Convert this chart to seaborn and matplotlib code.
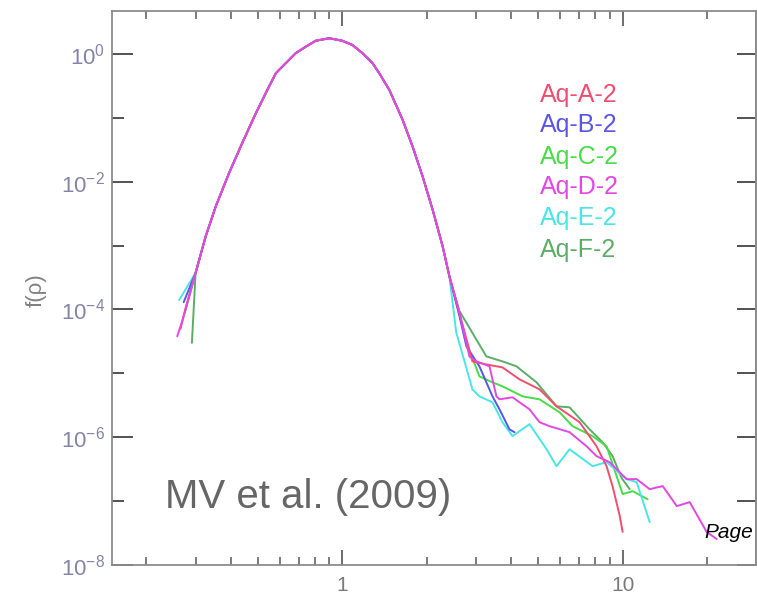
import numpy as np
import pandas as pd
import matplotlib
matplotlib.use("Agg")
import matplotlib.pyplot as plt
import seaborn as sns
from matplotlib.ticker import FixedLocator, FuncFormatter, NullFormatter

# ---------------- data ----------------
series_names = ["Aq-A-2", "Aq-B-2", "Aq-C-2", "Aq-D-2", "Aq-E-2", "Aq-F-2"]
series_colors = ["#f24d6e", "#5a55e6", "#48dc48", "#e448e4", "#48e6e6", "#5aae66"]

# shared central part of the density curves (all six overlap here)
rho_core = [0.300, 0.326, 0.354, 0.395, 0.440, 0.492, 0.548, 0.580, 0.629, 0.683,
            0.742, 0.805, 0.899, 1.00, 1.088, 1.18, 1.283, 1.355, 1.472, 1.642,
            1.782, 1.935, 2.101, 2.281, 2.411]
f_core = [3.74e-4, 1.40e-3, 4.11e-3, 1.37e-2, 4.03e-2, 0.118, 0.308, 0.50, 0.716, 1.03,
          1.30, 1.61, 1.76, 1.61, 1.38, 1.03, 0.716, 0.50, 0.274, 9.32e-2,
          3.56e-2, 1.21e-2, 3.65e-3, 9.75e-4, 3.31e-4]

# low-density ends
rho_left = {
    "Aq-A-2": [0.265, 0.277], "Aq-B-2": [0.272], "Aq-C-2": [0.275],
    "Aq-D-2": [0.258, 0.270], "Aq-E-2": [0.262], "Aq-F-2": [0.291],
}
f_left = {
    "Aq-A-2": [5.0e-5, 1.1e-4], "Aq-B-2": [1.3e-4], "Aq-C-2": [9.0e-5],
    "Aq-D-2": [3.8e-5, 7.0e-5], "Aq-E-2": [1.4e-4], "Aq-F-2": [3.0e-5],
}

# high-density tails
rho_right = {
    "Aq-A-2": [2.617, 2.913, 3.267, 3.728, 4.287, 5.054, 5.811, 7.023, 8.075, 8.768,
               9.210, 9.756, 10.0],
    "Aq-B-2": [2.617, 2.773, 3.085, 3.434, 3.637, 3.948, 4.114],
    "Aq-C-2": [2.617, 2.773, 3.085, 3.434, 3.728, 4.394, 5.054, 5.957, 6.630, 7.814,
               8.768, 9.519, 10.0, 10.86, 12.28],
    "Aq-D-2": [2.617, 2.842, 3.010, 3.350, 3.548, 3.637, 4.047, 4.655, 5.054, 5.487,
               6.467, 7.437, 8.075, 8.986, 10.33, 11.22, 12.49, 13.90, 15.60, 17.35,
               19.95, 21.66],
    "Aq-E-2": [2.55, 2.913, 3.085, 3.434, 3.728, 4.047, 4.655, 5.354, 5.811, 6.467,
               7.814, 8.768, 10.33, 11.22, 12.49],
    "Aq-F-2": [2.617, 3.267, 3.728, 4.182, 4.931, 5.811, 6.467, 7.624, 8.483, 9.210,
               9.918, 10.6],
}
f_right = {
    "Aq-A-2": [8.9e-5, 1.54e-5, 1.38e-5, 1.24e-5, 8.06e-6, 5.62e-6, 3.05e-6, 1.72e-6,
               7.2e-7, 3.5e-7, 1.7e-7, 6.0e-8, 3.3e-8],
    "Aq-B-2": [8.0e-5, 2.64e-5, 1.29e-5, 4.37e-6, 2.74e-6, 1.33e-6, 1.20e-6],
    "Aq-C-2": [8.5e-5, 3.05e-5, 8.98e-6, 7.23e-6, 6.26e-6, 4.37e-6, 3.92e-6, 2.46e-6,
               1.49e-6, 1.04e-6, 7.23e-7, 2.46e-7, 1.29e-7, 1.43e-7, 1.07e-7],
    "Aq-D-2": [9.0e-5, 1.84e-5, 1.54e-5, 1.29e-5, 4.37e-6, 3.92e-6, 4.22e-6, 2.74e-6,
               1.72e-6, 1.49e-6, 1.20e-6, 7.23e-7, 5.05e-7, 4.07e-7, 2.21e-7, 2.21e-7,
               1.54e-7, 1.72e-7, 8.35e-8, 9.65e-8, 3.28e-8, 2.55e-8],
    "Aq-E-2": [4.4e-5, 5.62e-6, 4.37e-6, 3.52e-6, 1.72e-6, 1.04e-6, 1.60e-6, 6.49e-7,
               3.52e-7, 6.49e-7, 3.52e-7, 4.07e-7, 2.21e-7, 1.98e-7, 4.70e-8],
    "Aq-F-2": [9.5e-5, 1.84e-5, 1.54e-5, 1.29e-5, 7.23e-6, 3.05e-6, 2.94e-6, 1.33e-6,
               8.35e-7, 5.05e-7, 2.3e-7, 1.54e-7],
}

y_tick_vals = [1e-8, 1e-6, 1e-4, 1e-2, 1e0]
y_tick_labels = [r"$10^{-8}$", r"$10^{-6}$", r"$10^{-4}$", r"$10^{-2}$", r"$10^{0}$"]
y_minor_vals = [1e-7, 1e-5, 1e-3, 1e-1]
x_tick_vals = [1, 10]
x_tick_labels = ["1", "10"]
x_minor_vals = [0.2, 0.3, 0.4, 0.5, 0.6, 0.7, 0.8, 0.9, 2, 3, 4, 5, 6, 7, 8, 9, 20, 30]

# ---------------- build table ----------------
rows = []
for name in series_names:
    rr = rho_left[name] + rho_core + rho_right[name]
    ff = f_left[name] + f_core + f_right[name]
    for r, f in zip(rr, ff):
        rows.append({"series": name, "rho": r, "f": f})
df = pd.DataFrame(rows)

# ---------------- style ----------------
sns.set_theme(style="white")
plt.rcParams["font.family"] = ["Liberation Sans", "DejaVu Sans"]
plt.rcParams["mathtext.default"] = "regular"
plt.rcParams["axes.unicode_minus"] = False

W, H = 757, 596
fig = plt.figure(figsize=(W / 100, H / 100), dpi=100)
ax = fig.add_axes([112 / W, 1 - 565 / H, 644 / W, 554 / H])

palette = dict(zip(series_names, series_colors))
draw_order = ["Aq-F-2", "Aq-C-2", "Aq-E-2", "Aq-B-2", "Aq-A-2", "Aq-D-2"]
sns.lineplot(data=df, x="rho", y="f", hue="series", hue_order=draw_order,
             palette=palette, estimator=None, sort=False, legend=False,
             linewidth=1.4, ax=ax)

ax.set_xscale("log")
ax.set_yscale("log")
ax.set_xlim(0.151, 29.9)
ax.set_ylim(1e-8, 4.7)
ax.set_xlabel("")
ax.set_ylabel("")

spine_col = "#8c8c8c"
for s in ax.spines.values():
    s.set_color(spine_col)
    s.set_linewidth(1.3)

# x ticks
ax.xaxis.set_major_locator(FixedLocator(x_tick_vals))
ax.xaxis.set_major_formatter(FuncFormatter(lambda v, p: x_tick_labels[x_tick_vals.index(v)] if v in x_tick_vals else ""))
ax.xaxis.set_minor_locator(FixedLocator(x_minor_vals))
ax.xaxis.set_minor_formatter(NullFormatter())
ax.tick_params(axis="x", which="major", direction="in", length=11, width=1.2,
               color="#555555", top=True, bottom=True, labelsize=15,
               labelcolor="#7a7a7a", pad=8)
ax.tick_params(axis="x", which="minor", direction="in", length=6, width=1.2,
               color="#666666", top=True, bottom=True)

# y ticks (left)
ax.yaxis.set_major_locator(FixedLocator(y_tick_vals))
ax.yaxis.set_major_formatter(FuncFormatter(lambda v, p: y_tick_labels[int(round(np.log10(v) / 2)) + 4] if v > 0 else ""))
ax.yaxis.set_minor_locator(FixedLocator(y_minor_vals))
ax.yaxis.set_minor_formatter(NullFormatter())
ax.tick_params(axis="y", which="major", direction="in", length=15, width=1.3,
               color="#444444", left=True, right=False, labelsize=16,
               labelcolor="#8484a8", pad=5)
ax.tick_params(axis="y", which="minor", direction="in", length=8.5, width=1.3,
               color="#444444", left=True, right=False)

# y ticks (right side, every decade)
sec = ax.secondary_yaxis("right")
sec.set_yticks(sorted(y_tick_vals + y_minor_vals))
sec.yaxis.set_minor_locator(FixedLocator([]))
sec.tick_params(axis="y", which="major", direction="in", length=14, width=1.3,
                color="#444444", labelright=False)
sec.spines["right"].set_color(spine_col)

# y axis label
fig.text(36 / W, 1 - 290 / H, "f(\u03c1)", rotation=90, ha="center", va="center",
         fontsize=16, color="#808080")

# legend as coloured text
legend_y = [95, 125, 157, 187, 218, 250]
for name, col, yy in zip(series_names, series_colors, legend_y):
    fig.text(540 / W, 1 - yy / H, name, color=col, fontsize=18, ha="left", va="center")

fig.text(165 / W, 1 - 497 / H, "MV et al. (2009)", fontsize=29, color="#666666",
         ha="left", va="center")
fig.text(704 / W, 1 - 533 / H, "Page", fontsize=15, style="italic", color="black",
         ha="left", va="center")

fig.savefig("out.png", dpi=100)
